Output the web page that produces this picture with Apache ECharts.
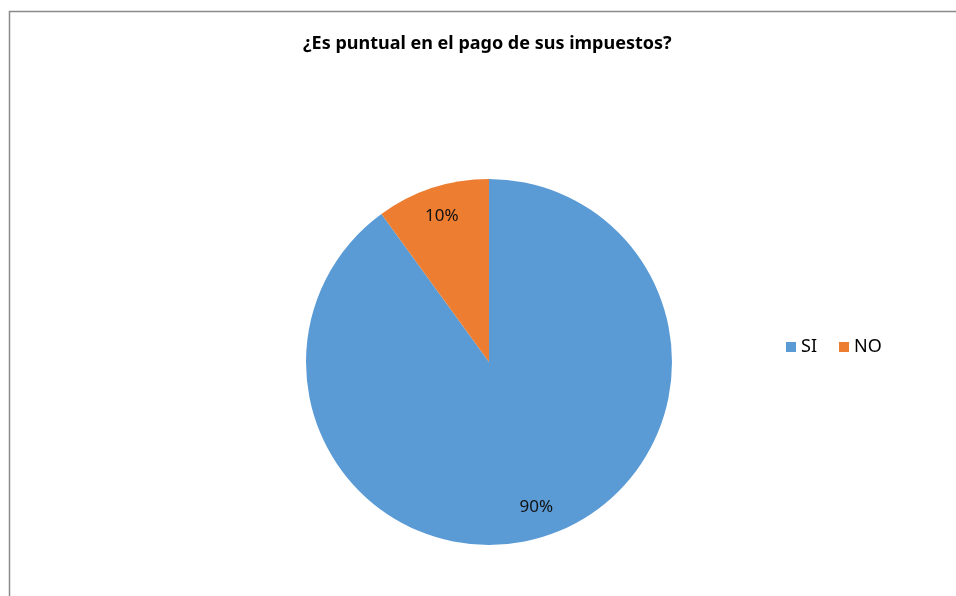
<!DOCTYPE html>
<html>
<head>
<meta charset="utf-8">
<script src="https://cdn.jsdelivr.net/npm/echarts@6/dist/echarts.min.js"></script>
<style>
  html, body { margin: 0; padding: 0; background: #ffffff; }
  #chart { width: 956px; height: 596px; }
</style>
</head>
<body>
<div id="chart"></div>
<script>
// Survey answers and their shares
const categories = ['SI', 'NO'];
const shares = [90, 10];
const colors = ['#5B9BD5', '#ED7D31'];
const titleText = '¿Es puntual en el pago de sus impuestos?';

const pieData = categories.map((name, i) => ({ name, value: shares[i] }));
const center = [489, 362];

const chart = echarts.init(document.getElementById('chart'), null, { renderer: 'canvas' });
chart.setOption({
  animation: false,
  backgroundColor: '#ffffff',
  title: {
    text: titleText,
    left: 303,
    top: 35,
    padding: 0,
    textStyle: { fontFamily: 'Noto Sans', fontSize: 18, fontWeight: 'bold', color: '#000000' }
  },
  legend: {
    data: categories,
    orient: 'horizontal',
    left: 786,
    top: 338,
    padding: 0,
    itemWidth: 10,
    itemHeight: 10,
    itemGap: 22,
    icon: 'rect',
    textStyle: { fontFamily: 'Noto Sans', fontSize: 18, color: '#000000', padding: 0 }
  },
  graphic: [{
    type: 'rect',
    shape: { x: 9.5, y: 11.5, width: 1000, height: 1000 },
    style: { fill: 'none', stroke: '#8a8a8a', lineWidth: 1.5 },
    silent: true,
    z: 0
  }],
  series: [
    {
      type: 'pie',
      center: center,
      radius: [0, 183],
      startAngle: 90,
      clockwise: true,
      data: pieData,
      color: colors,
      label: { show: false },
      labelLine: { show: false },
      emphasis: { disabled: true }
    },
    {
      // transparent companion ring used only to place the percentage labels
      type: 'pie',
      center: center,
      radius: [0, 300],
      startAngle: 90,
      clockwise: true,
      silent: true,
      data: pieData,
      itemStyle: { color: 'rgba(0,0,0,0)' },
      label: {
        show: true,
        position: 'inside',
        formatter: '{d}%',
        fontFamily: 'Noto Sans',
        fontSize: 17,
        color: '#111111'
      },
      labelLine: { show: false },
      emphasis: { disabled: true }
    }
  ]
});
</script>
</body>
</html>
